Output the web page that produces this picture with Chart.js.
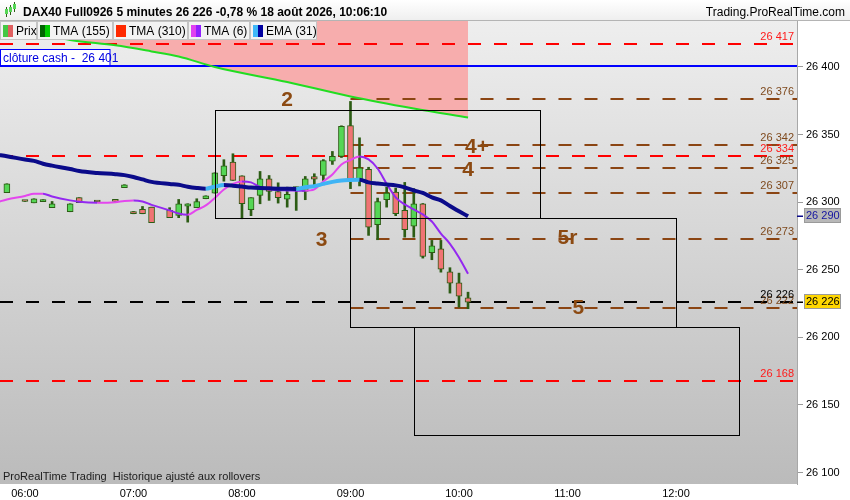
<!DOCTYPE html>
<html>
<head>
<meta charset="utf-8">
<title>DAX40 Full0926 5 minutes</title>
<script src="https://cdn.jsdelivr.net/npm/chart.js@4.4.1/dist/chart.umd.min.js"></script>
<style>
  html, body { margin: 0; padding: 0; background: #fff; }
  #wrap { width: 850px; height: 500px; }
</style>
</head>
<body>
<div id="wrap"><canvas id="chart" width="850" height="500"></canvas></div>
<script>
//__________ données __________//
var times = ['05:50','06:00','06:05','06:10','06:15','06:25','06:30','06:40','06:50','06:55',
             '07:00','07:05','07:10','07:20','07:25','07:30','07:35','07:40','07:45','07:50','07:55',
             '08:00','08:05','08:10','08:15','08:20','08:25','08:30','08:35','08:40','08:45','08:50','08:55',
             '09:00','09:05','09:10','09:15','09:20','09:25','09:30','09:35','09:40','09:45','09:50','09:55',
             '10:00','10:05'];
var opens  = [26307.0,26300.9,26299.5,26300.4,26295.9,26292.9,26303.3,26300.5,26301.0,26310.7,
              26293.1,26294.6,26296.3,26293.9,26290.2,26297.0,26295.9,26302.5,26306.7,26319.5,26329.6,
              26319.5,26294.4,26305.0,26317.3,26307.9,26302.2,26310.4,26307.9,26319.0,26319.7,26330.3,26333.8,
              26356.7,26316.0,26324.2,26283.3,26301.8,26307.4,26293.9,26282.2,26298.8,26262.6,26265.5,26248.5,
              26240.4,26229.3];
var highs  = [26313.6,26300.9,26302.5,26301.8,26300.5,26298.8,26303.3,26300.5,26301.0,26312.9,
              26293.1,26296.8,26296.3,26295.9,26302.0,26298.8,26302.5,26304.7,26321.7,26331.4,26335.8,
              26319.5,26303.3,26322.7,26319.7,26314.3,26311.1,26311.1,26319.0,26321.0,26331.5,26337.5,26356.5,
              26374.5,26347.6,26325.8,26303.0,26311.1,26310.4,26314.6,26310.0,26299.0,26271.7,26271.7,26251.5,
              26247.5,26233.4];
var lows   = [26307.0,26300.5,26299.5,26300.4,26295.9,26292.9,26299.6,26300.1,26300.6,26310.7,
              26291.4,26291.4,26284.8,26288.5,26288.5,26285.2,26295.9,26302.5,26306.7,26315.5,26316.1,
              26287.7,26290.0,26298.8,26301.3,26299.3,26296.3,26293.9,26301.8,26311.0,26316.0,26327.9,26333.0,
              26310.0,26312.0,26275.4,26272.2,26296.3,26290.0,26274.1,26274.1,26258.6,26257.4,26248.2,26232.7,
              26222.3,26221.2];
var closes = [26313.6,26300.5,26302.5,26301.8,26298.8,26298.8,26299.6,26300.1,26300.6,26312.9,
              26291.4,26291.4,26284.8,26288.5,26298.8,26298.8,26300.5,26304.7,26321.7,26326.9,26316.1,
              26298.8,26303.3,26317.3,26307.9,26303.3,26305.7,26310.0,26317.3,26317.0,26330.8,26333.8,26356.0,
              26316.6,26325.4,26281.5,26300.5,26306.7,26291.4,26279.6,26298.8,26259.8,26267.7,26250.4,26240.0,
              26230.5,26226.0];

// indicateurs (une valeur de plus, la bougie 05:45 coupée au bord)
var lineTimes = ['05:45'].concat(times);
var ema31 = [26335.0,26334.0,26331.5,26330.5,26328.4,26327.0,26324.5,26323.0,26321.6,26320.7,26320.0,
             26318.6,26316.8,26315.0,26313.4,26312.8,26311.4,26310.5,26310.0,26311.5,26312.6,26312.2,
             26311.5,26310.8,26310.4,26310.2,26310.0,26309.9,26309.8,26311.0,26311.8,26313.5,26315.0,26316.0,
             26316.4,26316.6,26314.6,26313.8,26313.1,26312.4,26310.9,26308.7,26306.8,26303.5,26301.3,26297.2,
             26293.3,26289.5];
var tma6  = [26300.1,26302.0,26304.6,26306.2,26306.3,26304.2,26301.3,26300.3,26299.6,26300.0,26300.9,
             26301.3,26300.5,26298.0,26293.9,26291.6,26290.7,26294.2,26297.6,26303.1,26309.4,26313.5,
             26315.3,26314.6,26311.2,26309.5,26308.8,26308.7,26308.5,26308.4,26309.4,26315.3,26320.5,26327.9,
             26331.2,26333.8,26331.6,26324.9,26313.6,26303.5,26298.3,26294.6,26290.9,26285.7,26276.8,26269.2,
             26259.1,26247.0];
var tma155Times = ['05:45','06:15','06:25','06:50','07:10','07:25','07:45','08:25','09:00','09:35','10:05'];
var tma155 = [26432.0,26423.0,26420.0,26416.0,26411.5,26407.8,26400.0,26388.9,26378.2,26369.3,26362.6];

// niveaux horizontaux
var redLevels = [26417, 26334, 26168];
var brownLevels = [26376, 26342, 26325, 26307, 26273, 26222];
var brownFrom = '09:00';
var blackLevel = 26226;
var cashClose = 26401;

// rectangles
var boxFrom = ['07:45', '09:00', '09:35'];
var boxTo   = ['10:45', '12:00', '12:35'];
var boxHigh = [26368, 26288, 26208];
var boxLow  = [26288, 26208, 26128];

// numéros de vagues
var waveTexts  = ['2', '3', '4+', '4', '5r', '5'];
var waveTimes  = ['08:25', '08:44', '10:10', '10:05', '11:00', '11:06'];
var wavePrices = [26375.6, 26272, 26340.8, 26323.8, 26273.5, 26221.7];

var xTicks = ['06:00','07:00','08:00','09:00','10:00','11:00','12:00'];
var yTicks = [26100, 26150, 26200, 26250, 26300, 26350, 26400];

//__________ outils __________//
var FONT = '"Liberation Sans", Arial, sans-serif';
function toMin(t){ var p = t.split(':'); return (+p[0]) * 60 + (+p[1]); }
function fmtTime(v){
    var h = Math.floor(v / 60), m = Math.round(v % 60);
    return (h < 10 ? '0' : '') + h + ':' + (m < 10 ? '0' : '') + m;
}
function fmtPrice(v){ return String(Math.round(v)).replace(/(\d+)(\d{3})$/, '$1 $2'); }
function pts(ts, vals){ return ts.map(function(t, i){ return {x: toMin(t), y: vals[i]}; }); }
function upDown(up, down){
    return function(c){ return c.p1.parsed.y > c.p0.parsed.y ? up : down; };
}

var candleBorder = '#2c5c14';
var bodies = times.map(function(t, i){ return {x: toMin(t), y: [opens[i], closes[i]]}; });
var wicks  = times.map(function(t, i){ return {x: toMin(t), y: [lows[i], highs[i]]}; });
var bodyColors = times.map(function(t, i){ return closes[i] >= opens[i] ? '#55d655' : '#f07474'; });

//__________ dessins supplémentaires __________//
function dashed(c, y, x0, x1, color){
    c.save();
    c.strokeStyle = color; c.lineWidth = 2; c.setLineDash([13, 13]);
    c.beginPath(); c.moveTo(x0, y); c.lineTo(x1, y); c.stroke();
    c.restore();
}
function levelLabel(c, a, y, txt, color){
    c.fillStyle = color; c.font = '11px ' + FONT;
    c.textAlign = 'right'; c.textBaseline = 'alphabetic';
    c.fillText(txt, a.right - 3, y - 4);
}

var overlay = {
    id: 'overlay',
    beforeDraw: function(chart){
        var c = chart.ctx, a = chart.chartArea;
        c.save();
        c.fillStyle = '#fff';
        c.fillRect(0, 0, chart.width, chart.height);
        var g = c.createLinearGradient(0, a.top, 0, a.bottom);
        g.addColorStop(0, '#eeeeee');
        g.addColorStop(1, '#bbbbbb');
        c.fillStyle = g;
        c.fillRect(a.left, a.top, a.right - a.left, a.bottom - a.top);
        c.restore();
    },
    beforeDatasetsDraw: function(chart){
        var c = chart.ctx, a = chart.chartArea, xs = chart.scales.x, ys = chart.scales.y;
        c.save();
        c.beginPath(); c.rect(a.left, a.top, a.right - a.left, a.bottom - a.top); c.clip();
        // clôture cash
        var yb = Math.round(ys.getPixelForValue(cashClose));
        c.strokeStyle = '#0000ff'; c.lineWidth = 2;
        c.beginPath(); c.moveTo(a.left, yb); c.lineTo(a.right, yb); c.stroke();
        redLevels.forEach(function(v){ dashed(c, Math.round(ys.getPixelForValue(v)), a.left, a.right, '#ff0000'); });
        var xb = xs.getPixelForValue(toMin(brownFrom));
        brownLevels.forEach(function(v){ dashed(c, Math.round(ys.getPixelForValue(v)), xb, a.right, '#8b4513'); });
        dashed(c, Math.round(ys.getPixelForValue(blackLevel)), a.left, a.right, '#000000');
        c.restore();
    },
    afterDatasetsDraw: function(chart){
        var c = chart.ctx, a = chart.chartArea, xs = chart.scales.x, ys = chart.scales.y;
        c.save();
        c.beginPath(); c.rect(a.left, a.top, a.right - a.left, a.bottom - a.top); c.clip();
        // rectangles
        c.strokeStyle = '#000'; c.lineWidth = 1;
        for (var i = 0; i < boxFrom.length; i++) {
            var x0 = Math.round(xs.getPixelForValue(toMin(boxFrom[i]))) + 0.5;
            var x1 = Math.round(xs.getPixelForValue(toMin(boxTo[i]))) + 0.5;
            var y0 = Math.round(ys.getPixelForValue(boxHigh[i])) + 0.5;
            var y1 = Math.round(ys.getPixelForValue(boxLow[i])) + 0.5;
            c.strokeRect(x0, y0, x1 - x0, y1 - y0);
        }
        // étiquettes des niveaux
        redLevels.forEach(function(v){ levelLabel(c, a, ys.getPixelForValue(v), fmtPrice(v), '#ff1a1a'); });
        brownLevels.forEach(function(v){ levelLabel(c, a, ys.getPixelForValue(v), fmtPrice(v), '#7f4a1e'); });
        levelLabel(c, a, ys.getPixelForValue(blackLevel), fmtPrice(blackLevel), '#000');
        // vagues
        c.font = 'bold 21px ' + FONT; c.textAlign = 'center'; c.textBaseline = 'middle';
        c.fillStyle = '#8c4a12';
        for (var j = 0; j < waveTexts.length; j++) {
            c.fillText(waveTexts[j], xs.getPixelForValue(toMin(waveTimes[j])), ys.getPixelForValue(wavePrices[j]));
        }
        // boîte clôture cash
        var yb = Math.round(ys.getPixelForValue(cashClose));
        c.fillStyle = '#fff'; c.fillRect(0.5, yb - 16.5, 109.5, 16);
        c.strokeStyle = '#0000ff'; c.lineWidth = 1; c.strokeRect(0.5, yb - 16.5, 109.5, 16);
        c.fillStyle = '#0000e0'; c.font = '12px ' + FONT; c.textAlign = 'left'; c.textBaseline = 'alphabetic';
        c.fillText('clôture cash -  ' + fmtPrice(cashClose), 3, yb - 4);
        // bas de page
        c.fillStyle = '#202020'; c.font = '11px ' + FONT;
        c.fillText('ProRealTime Trading  Historique ajusté aux rollovers', 3, a.bottom - 4);
        c.restore();
    },
    afterDraw: function(chart){
        var c = chart.ctx, a = chart.chartArea, ys = chart.scales.y;
        c.save();
        // bandeau du titre
        var g = c.createLinearGradient(0, 0, 0, 21);
        g.addColorStop(0, '#ffffff'); g.addColorStop(1, '#eeeeee');
        c.fillStyle = g; c.fillRect(0, 0, chart.width, 21);
        c.fillStyle = '#b4b4b4'; c.fillRect(0, 20, chart.width, 1);
        // petite icône bougies
        c.fillStyle = '#2c5c14';
        c.fillRect(6, 7, 1, 10); c.fillRect(10, 5, 1, 10); c.fillRect(14, 2, 1, 10);
        c.fillStyle = '#55d655';
        c.fillRect(5, 9, 3, 5); c.fillRect(9, 7, 3, 5); c.fillRect(13, 4, 3, 5);
        c.fillStyle = '#000'; c.textBaseline = 'alphabetic';
        c.font = 'bold 12px ' + FONT; c.textAlign = 'left';
        c.fillText('DAX40 Full0926 5 minutes 26 226 -0,78 % 18 août 2026, 10:06:10', 23, 16);
        c.font = '12px ' + FONT; c.textAlign = 'right';
        c.fillText('Trading.ProRealTime.com', 845, 16);
        // légende
        var items = [
            {t: 'Prix', c: ['#44c844', '#e06060'], x0: 0, x1: 37},
            {t: 'TMA (155)', c: ['#006400', '#00cc00'], x0: 37, x1: 113},
            {t: 'TMA (310)', c: ['#ff2a00', '#ff2a00'], x0: 113, x1: 188},
            {t: 'TMA (6)', c: ['#e040f0', '#9020ff'], x0: 188, x1: 250},
            {t: 'EMA (31)', c: ['#40b8f8', '#0000a0'], x0: 250, x1: 317}
        ];
        c.font = '12px ' + FONT; c.textAlign = 'left';
        items.forEach(function(it){
            c.fillStyle = '#f3f3f3'; c.fillRect(it.x0, 21, it.x1 - it.x0, 19);
            c.strokeStyle = '#c4c4c4'; c.lineWidth = 1;
            c.strokeRect(it.x0 + 0.5, 21.5, it.x1 - it.x0 - 1, 18);
            c.fillStyle = it.c[0]; c.fillRect(it.x0 + 3, 25, 5, 12);
            c.fillStyle = it.c[1]; c.fillRect(it.x0 + 8, 25, 5, 12);
            c.fillStyle = '#000'; c.fillText(it.t, it.x0 + 16, 35);
        });
        // valeurs sur l'axe de droite
        function axisBox(v, bg, fg, tick){
            var y = Math.round(ys.getPixelForValue(v));
            c.fillStyle = tick; c.fillRect(a.right, y - 0.5, 6, 1.5);
            c.fillStyle = bg; c.fillRect(804.5, y - 7.5, 36, 14);
            c.strokeStyle = '#9a9a9a'; c.lineWidth = 1; c.strokeRect(804.5, y - 7.5, 36, 14);
            c.fillStyle = fg; c.font = '11px ' + FONT; c.textAlign = 'left'; c.textBaseline = 'middle';
            c.fillText(fmtPrice(v), 806, y);
        }
        axisBox(ema31[ema31.length - 1], '#b8b8b8', '#1414a0', '#0b0b8a');
        axisBox(closes[closes.length - 1], '#ffd700', '#000', '#000');
        c.restore();
    }
};

//__________ graphique __________//
Chart.defaults.font.family = FONT;
var ctx = document.getElementById('chart').getContext('2d');
var chart = new Chart(ctx, {
    type: 'bar',
    data: {
        datasets: [
            {
                type: 'line', label: 'EMA (31)', data: pts(lineTimes, ema31),
                borderWidth: 4, pointRadius: 0, cubicInterpolationMode: 'monotone',
                borderColor: '#0b0b8a', segment: { borderColor: upDown('#3fb4f5', '#0b0b8a') },
                order: 0
            },
            {
                type: 'line', label: 'TMA (6)', data: pts(lineTimes, tma6),
                borderWidth: 2, pointRadius: 0, cubicInterpolationMode: 'monotone',
                borderColor: '#9428f0', segment: { borderColor: upDown('#e446ee', '#9428f0') },
                order: 1
            },
            {
                type: 'line', label: 'TMA (155)', data: pts(tma155Times, tma155),
                borderWidth: 2, pointRadius: 0, cubicInterpolationMode: 'monotone',
                borderColor: '#22dd22', fill: 'end', backgroundColor: '#f7adad',
                order: 2
            },
            {
                label: 'Prix', data: bodies, backgroundColor: bodyColors,
                borderColor: candleBorder, borderWidth: 1, borderSkipped: false,
                barThickness: 6, minBarLength: 2, grouped: false, order: 3
            },
            {
                label: 'Mèches', data: wicks, backgroundColor: candleBorder,
                borderWidth: 0, barThickness: 2, grouped: false, order: 4
            }
        ]
    },
    options: {
        responsive: false,
        animation: false,
        devicePixelRatio: 1,
        events: [],
        layout: { padding: { top: 21, left: 0, right: 0, bottom: 0 } },
        plugins: {
            legend: { display: false },
            tooltip: { enabled: false },
            filler: { drawTime: 'beforeDatasetsDraw' }
        },
        scales: {
            x: {
                type: 'linear', min: 346.2, max: 786.9, offset: false,
                grid: { display: false, drawTicks: false },
                border: { display: false },
                afterBuildTicks: function(s){ s.ticks = xTicks.map(function(t){ return {value: toMin(t)}; }); },
                afterFit: function(s){ s.height = 16; },
                ticks: {
                    callback: function(v){ return fmtTime(v); },
                    font: { size: 11 }, color: '#000', padding: 3,
                    maxRotation: 0, autoSkip: false
                }
            },
            y: {
                position: 'right', min: 26091.5, max: 26434,
                grid: { drawOnChartArea: false, tickLength: 6, color: '#9a9a9a' },
                border: { color: '#a8a8a8' },
                afterBuildTicks: function(s){ s.ticks = yTicks.map(function(v){ return {value: v}; }); },
                afterFit: function(s){ s.width = 53; },
                ticks: {
                    callback: function(v){ return fmtPrice(v); },
                    font: { size: 11 }, color: '#000', padding: 3
                }
            }
        }
    },
    plugins: [overlay]
});
</script>
</body>
</html>
